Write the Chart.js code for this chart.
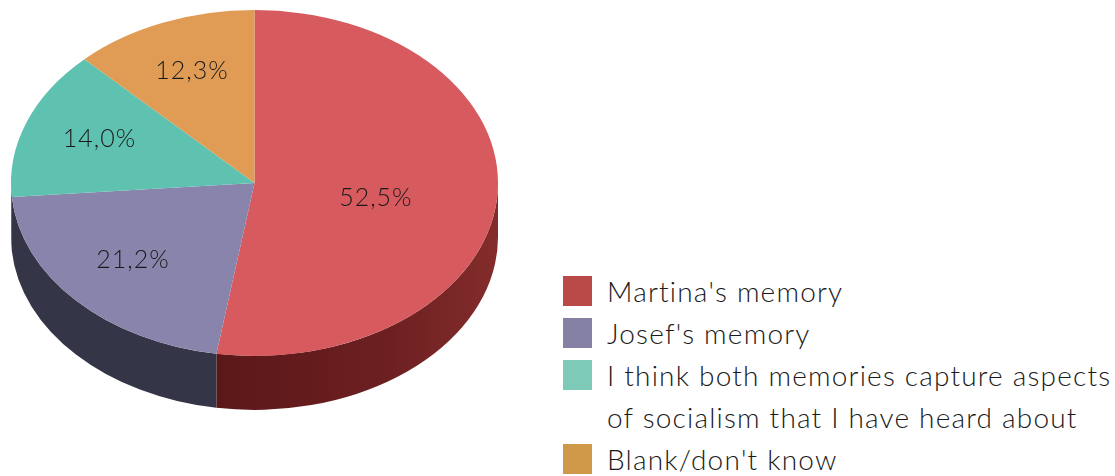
<!DOCTYPE html>
<html>
<head>
<meta charset="utf-8">
<script src="https://cdn.jsdelivr.net/npm/chart.js@4.4.1/dist/chart.umd.min.js"></script>
<style>
  html, body { margin: 0; padding: 0; background: #fff; overflow: hidden; }
  body { width: 1115px; height: 476px; position: relative; font-family: "Lato", sans-serif; }
  #pieBox { position: absolute; left: 0; top: 0; width: 520px; height: 476px; }
  #legend { position: absolute; left: 563px; top: 270px; color: #1a1a1a; font-size: 28px; font-weight: 300; letter-spacing: 1.2px; }
  #legend .item { display: flex; align-items: flex-start; }
  #legend .sw { width: 29px; height: 30px; margin-top: 6px; margin-right: 15px; flex: none; }
  #legend .txt { line-height: 42px; white-space: nowrap; }
</style>
</head>
<body>
<div id="pieBox"><canvas id="pie"></canvas></div>
<div id="legend"></div>
<script>
var labels = ["Martina's memory", "Josef's memory",
  ["I think both memories capture aspects", "of socialism that I have heard about"],
  "Blank/don't know"];
var values = [52.5, 21.2, 14.0, 12.3];
var topColors = ["#d65a5e", "#8984ac", "#5fc2b0", "#e09c55"];
var sideColors = ["#6a1e1e", "#353548", "#2f5e56", "#7a5226"];
var legendColors = ["#b94a48", "#8481a5", "#7ecab9", "#d0994a"];

var tilt = 0.71;   // vertical squash of the pie
var depth = 54;    // thickness of the side

function fmt(v) { return v.toFixed(1).replace('.', ',') + '%'; }

// html legend
var legend = document.getElementById('legend');
labels.forEach(function(l, i) {
  var row = document.createElement('div');
  row.className = 'item';
  var sw = document.createElement('div');
  sw.className = 'sw';
  sw.style.background = legendColors[i];
  var t = document.createElement('div');
  t.className = 'txt';
  t.innerHTML = [].concat(l).join('<br>');
  row.appendChild(sw);
  row.appendChild(t);
  legend.appendChild(row);
});

var pie3d = {
  id: 'pie3d',
  beforeDatasetsDraw: function(chart) {
    var ctx = chart.ctx;
    var arcs = chart.getDatasetMeta(0).data;
    var cx = arcs[0].x, cy = arcs[0].y, rx = arcs[0].outerRadius, ry = rx * tilt;
    // side walls, only the front half (0..PI) is visible
    arcs.forEach(function(a, i) {
      var s = Math.max(a.startAngle, 0), e = Math.min(a.endAngle, Math.PI);
      if (e <= s) return;
      var g = sideColors[i];
      if (i === 0) {
        g = ctx.createLinearGradient(cx - rx * 0.2, 0, cx + rx, 0);
        g.addColorStop(0, '#5a1718');
        g.addColorStop(0.6, '#6c1f20');
        g.addColorStop(1, '#842c2c');
      }
      ctx.save();
      ctx.beginPath();
      ctx.ellipse(cx, cy, rx, ry, 0, s, e);
      ctx.ellipse(cx, cy + depth, rx, ry, 0, e, s, true);
      ctx.closePath();
      ctx.fillStyle = g;
      ctx.fill();
      ctx.restore();
    });
    // squash the top face
    ctx.save();
    ctx.translate(cx, cy);
    ctx.scale(1, tilt);
    ctx.translate(-cx, -cy);
  },
  afterDatasetsDraw: function(chart) {
    var ctx = chart.ctx;
    ctx.restore();
    var arcs = chart.getDatasetMeta(0).data;
    ctx.save();
    ctx.font = '300 25px Lato';
    ctx.letterSpacing = '1px';
    ctx.fillStyle = '#1a1a1a';
    ctx.textAlign = 'center';
    ctx.textBaseline = 'middle';
    arcs.forEach(function(a, i) {
      var mid = (a.startAngle + a.endAngle) / 2;
      var big = values[i] > 40;
      var f = big ? 0.5 : 0.68;
      var x = a.x + a.outerRadius * f * Math.cos(mid);
      var y = a.y + a.outerRadius * tilt * f * Math.sin(mid) + (big ? 8 : -3);
      ctx.fillText(fmt(values[i]), x, y);
    });
    ctx.restore();
  }
};

new Chart(document.getElementById('pie'), {
  type: 'pie',
  data: {
    labels: labels,
    datasets: [{
      data: values,
      backgroundColor: topColors,
      borderWidth: 0
    }]
  },
  options: {
    responsive: true,
    maintainAspectRatio: false,
    animation: false,
    events: [],
    radius: 243.5,
    layout: { padding: { left: 0, right: 11, top: 0, bottom: 110 } },
    plugins: { legend: { display: false }, tooltip: { enabled: false } }
  },
  plugins: [pie3d]
});
</script>
</body>
</html>
